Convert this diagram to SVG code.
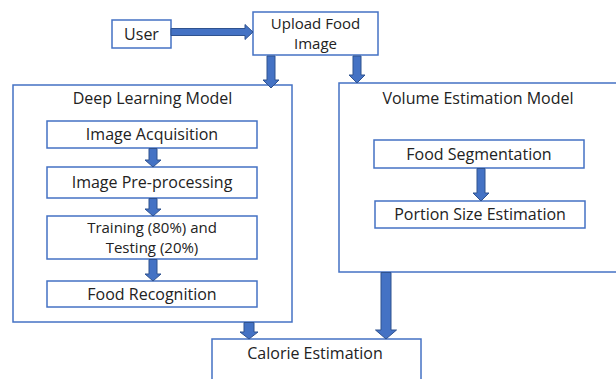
<svg xmlns="http://www.w3.org/2000/svg" width="616" height="379" viewBox="0 0 616 379">
  <style>
    .box { fill: #ffffff; stroke: #4472C4; stroke-width: 1.5; }
    .arrow { fill: #4472C4; stroke: #2F528F; stroke-width: 1; }
    text { font-family: "Open Sans", "Liberation Sans", sans-serif; font-size: 16px; fill: #222222; text-anchor: middle; }
    text.two-line { font-size: 15px; }
  </style>
  <rect x="0" y="0" width="616" height="379" fill="#ffffff"/>

  <g id="user">
    <rect class="box" x="112" y="20" width="59" height="28"/>
    <text x="141.5" y="39.5">User</text>
  </g>

  <g id="upload">
    <rect class="box" x="253" y="12" width="125" height="43"/>
    <text class="two-line" x="315.5" y="28.5">Upload Food</text>
    <text class="two-line" x="315.5" y="49">Image</text>
  </g>

  <g id="deep-learning-model">
    <rect class="box" x="13" y="85" width="279" height="237"/>
    <text x="152.5" y="104">Deep Learning Model</text>
  </g>

  <g id="image-acquisition">
    <rect class="box" x="47" y="121" width="210" height="27"/>
    <text x="152" y="140">Image Acquisition</text>
  </g>

  <g id="image-preprocessing">
    <rect class="box" x="47" y="167" width="210" height="31"/>
    <text x="152" y="188">Image Pre-processing</text>
  </g>

  <g id="training-testing">
    <rect class="box" x="47" y="216" width="210" height="43"/>
    <text class="two-line" x="152" y="232.5">Training (80%) and</text>
    <text class="two-line" x="152" y="253">Testing (20%)</text>
  </g>

  <g id="food-recognition">
    <rect class="box" x="47" y="281" width="210" height="26"/>
    <text x="152" y="299.5">Food Recognition</text>
  </g>

  <g id="volume-estimation-model">
    <rect class="box" x="339" y="83" width="285" height="189"/>
    <text x="478" y="104">Volume Estimation Model</text>
  </g>

  <g id="food-segmentation">
    <rect class="box" x="374" y="140" width="210" height="28"/>
    <text x="479" y="159.5">Food Segmentation</text>
  </g>

  <g id="portion-size">
    <rect class="box" x="375" y="201" width="210" height="27"/>
    <text x="480" y="220">Portion Size Estimation</text>
  </g>

  <g id="calorie-estimation">
    <rect class="box" x="212" y="339" width="209" height="50"/>
    <text x="315" y="358.5">Calorie Estimation</text>
  </g>

  <g id="connectors">
    <!-- User -> Upload Food Image -->
    <path class="arrow" d="M171,28.5 H245 V24.5 L253,32 L245,39.5 V35.5 H171 Z"/>
    <!-- Upload -> Deep Learning Model -->
    <path class="arrow" d="M267,56 H275 V80 H279 L271,88 L263,80 H267 Z"/>
    <!-- Upload -> Volume Estimation Model -->
    <path class="arrow" d="M353,56 H361 V75 H365 L357,83 L349,75 H353 Z"/>
    <!-- Image Acquisition -> Image Pre-processing -->
    <path class="arrow" d="M149,148.5 H157 V160 H161 L153,167 L145,160 H149 Z"/>
    <!-- Image Pre-processing -> Training -->
    <path class="arrow" d="M149,198.5 H157 V209 H161 L153,216 L145,209 H149 Z"/>
    <!-- Training -> Food Recognition -->
    <path class="arrow" d="M149,259.5 H157 V274 H161 L153,281 L145,274 H149 Z"/>
    <!-- Food Segmentation -> Portion Size Estimation -->
    <path class="arrow" d="M477,168.5 H485 V193 H489 L481,201 L473,193 H477 Z"/>
    <!-- Deep Learning Model -> Calorie Estimation -->
    <path class="arrow" d="M244,322.5 H254 V332 H258 L249,339 L240,332 H244 Z"/>
    <!-- Volume Estimation Model -> Calorie Estimation -->
    <path class="arrow" d="M381,272.5 H391 V330 H396.5 L386,339 L375.5,330 H381 Z"/>
  </g>
</svg>
